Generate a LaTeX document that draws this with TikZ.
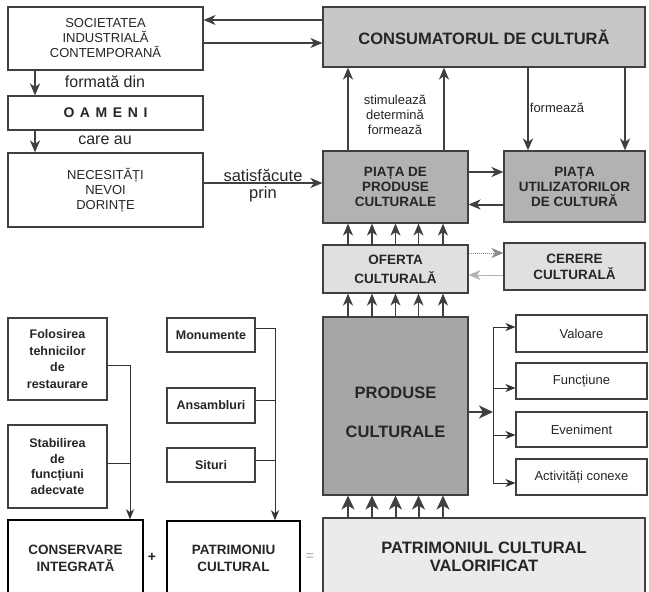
\documentclass[tikz,border=0pt]{standalone}
\usepackage{fontspec}
\setmainfont{Liberation Sans}
\usetikzlibrary{arrows.meta}

\begin{document}
\begin{tikzpicture}[x=1pt,y=-1pt,>={Stealth[length=12pt,width=10pt,inset=3.5pt]},
  every node/.style={text=black!85},
  bx/.style={draw=black!75,line width=1.1pt,rectangle,inner sep=0pt,align=center},
  ln/.style={draw=black!75,line width=1.4pt},
  lnthick/.style={draw=black!75,line width=2pt},
  lnthin/.style={draw=black!80,line width=0.8pt,>={Stealth[length=10pt,width=8pt,inset=3pt]}},
  bigarr/.style={draw=black!75,line width=2pt,-{Stealth[length=14pt,width=13pt,inset=4pt]}}
]
\useasboundingbox[fill=white] (0,0) rectangle (649,592);

% upper part
\node[bx,minimum width=195pt,minimum height=63pt,font=\fontsize{13}{15}\selectfont]
  (soc) at (105.5,38.5) {SOCIETATEA\\INDUSTRIALĂ\\CONTEMPORANĂ};
\node[bx,fill=black!22,minimum width=322pt,minimum height=60pt,font=\fontsize{16.5}{18}\selectfont\bfseries]
  (cons) at (484,37) {CONSUMATORUL DE CULTURĂ};
\node[bx,minimum width=195pt,minimum height=34pt,font=\fontsize{14}{16}\selectfont\bfseries\addfontfeature{LetterSpace=40}]
  (oam) at (105.5,113) {OAMENI};
\node[bx,minimum width=195pt,minimum height=74pt,font=\fontsize{13}{15}\selectfont]
  (nec) at (105.5,190) {NECESITĂȚI\\NEVOI\\DORINȚE};
\node[bx,fill=black!30,minimum width=145pt,minimum height=72pt,font=\fontsize{13.5}{15}\selectfont\bfseries]
  (piata) at (395.5,187) {PIAȚA DE\\PRODUSE\\CULTURALE};
\node[bx,fill=black!30,minimum width=141pt,minimum height=71pt,font=\fontsize{13.5}{15}\selectfont\bfseries]
  (util) at (574.5,186.5) {PIAȚA\\UTILIZATORILOR\\DE CULTURĂ};
\node[bx,fill=black!12,minimum width=145pt,minimum height=48pt,font=\fontsize{13.5}{19}\selectfont\bfseries]
  (oferta) at (395.5,269) {OFERTA\\CULTURALĂ};
\node[bx,fill=black!12,minimum width=141pt,minimum height=47pt,font=\fontsize{13.5}{16}\selectfont\bfseries]
  (cerere) at (574.5,266.5) {CERERE\\CULTURALĂ};

\node[font=\fontsize{16}{18}\selectfont] (fdin) at (105,82) {formată din};
\node[font=\fontsize{16}{18}\selectfont] (careau) at (105,140) {care au};
\node[font=\fontsize{16.5}{18}\selectfont] (satisf) at (263,175) {satisfăcute};
\node[font=\fontsize{16.5}{18}\selectfont] (prin) at (263,194) {prin};
\node[font=\fontsize{13}{15}\selectfont,align=center] (stim) at (395,115) {stimulează\\determină\\formează};
\node[font=\fontsize{13}{15}\selectfont] (form) at (557,108) {formează};

\draw[ln,->] ([yshift=17pt]cons.west) -- ([yshift=17pt]cons.west -| soc.east);
\draw[ln,->] ([yshift=-4.5pt]soc.east) -- ([yshift=-4.5pt]soc.east -| cons.west);
\draw[lnthick,->] ([xshift=-70.5pt]soc.south) -- ([xshift=-70.5pt]soc.south |- oam.north);
\draw[lnthick,->] ([xshift=-70.5pt]oam.south) -- ([xshift=-70.5pt]oam.south |- nec.north);
\draw[lnthick,->] ([yshift=7pt]nec.east) -- ([yshift=7pt]nec.east -| piata.west);
\draw[lnthick,->] ([xshift=-47.5pt]piata.north) -- ([xshift=-47.5pt]piata.north |- cons.south);
\draw[lnthick,->] ([xshift=48.5pt]piata.north) -- ([xshift=48.5pt]piata.north |- cons.south);
\draw[lnthick,->] ([xshift=-46.5pt]util.north |- cons.south) -- ([xshift=-46.5pt]util.north);
\draw[lnthick,->] ([xshift=50.5pt]util.north |- cons.south) -- ([xshift=50.5pt]util.north);
\draw[lnthick,->] ([yshift=15pt]piata.east) -- ([yshift=15pt]piata.east -| util.west);
\draw[lnthick,->] ([yshift=-18pt]util.west) -- ([yshift=-18pt]util.west -| piata.east);
\draw[draw=black!45,line width=1pt,densely dotted,->] ([yshift=16pt]oferta.east) -- ([yshift=16pt]oferta.east -| cerere.west);
\draw[draw=black!30,line width=1pt,->] ([yshift=-6pt]oferta.east -| cerere.west) -- ([yshift=-6pt]oferta.east);
\foreach \dx in {-47.5,-23.5,0,23,47.5}
  \draw[ln,->] ([xshift=\dx pt]oferta.north) -- ([xshift=\dx pt]oferta.north |- piata.south);

% lower right part
\node[bx,fill=black!35,minimum width=145pt,minimum height=178pt] (produse) at (395.5,406) {};
\node[font=\fontsize{16.5}{39}\selectfont\bfseries,align=center] (prodtxt) at ([yshift=-6pt]produse.center) {PRODUSE\\CULTURALE};
\node[bx,fill=black!8,minimum width=322pt,minimum height=78pt,font=\fontsize{16.5}{18}\selectfont\bfseries]
  (patv) at (484,557) {PATRIMONIUL CULTURAL\\VALORIFICAT};
\node[bx,minimum width=131pt,minimum height=37pt,font=\fontsize{13}{15}\selectfont] (val) at (581.5,333.5) {Valoare};
\node[bx,minimum width=131pt,minimum height=36pt,font=\fontsize{13}{15}\selectfont] (fct) at (581.5,381) {Funcțiune};
\node[bx,minimum width=131pt,minimum height=35pt,font=\fontsize{13}{15}\selectfont] (eve) at (581.5,429.5) {Eveniment};
\node[bx,minimum width=131pt,minimum height=36pt,font=\fontsize{13}{15}\selectfont] (act) at (581.5,477) {Activități conexe};
\coordinate (br) at (493,412);

\foreach \dx in {-47.5,-23.5,0,23,47.5}
  \draw[ln,->] ([xshift=\dx pt]produse.north) -- ([xshift=\dx pt]produse.north |- oferta.south);
\foreach \dx in {-47.5,-23.5,0,23,47.5}
  \draw[bigarr] ([xshift=\dx pt]produse.south |- patv.north) -- ([xshift=\dx pt]produse.south);
\draw[bigarr] (produse.east |- br) -- (br);
\draw[lnthin] ([yshift=6.5pt]val.west -| br) -- ([yshift=-6pt]act.west -| br);
\draw[lnthin,->] ([yshift=6.5pt]val.west -| br) -- ([yshift=6.5pt]val.west);
\draw[lnthin,->] ([yshift=-7pt]fct.west -| br) -- ([yshift=-7pt]fct.west);
\draw[lnthin,->] ([yshift=-5.5pt]eve.west -| br) -- ([yshift=-5.5pt]eve.west);
\draw[lnthin,->] ([yshift=-6pt]act.west -| br) -- ([yshift=-6pt]act.west);

% lower left part
\node[bx,minimum width=99pt,minimum height=82pt,font=\fontsize{12.5}{16.5}\selectfont\bfseries]
  (fol) at (57.5,359) {Folosirea\\tehnicilor\\de\\restaurare};
\node[bx,minimum width=99pt,minimum height=83pt,font=\fontsize{12.5}{15.7}\selectfont\bfseries]
  (stab) at (57.5,466.5) {Stabilirea\\de\\funcțiuni\\adecvate};
\node[bx,minimum width=88pt,minimum height=34pt,font=\fontsize{12.5}{15}\selectfont\bfseries] (mon) at (211,335) {Monumente};
\node[bx,minimum width=88pt,minimum height=35pt,font=\fontsize{12.5}{15}\selectfont\bfseries] (ans) at (211,405.5) {Ansambluri};
\node[bx,minimum width=88pt,minimum height=34pt,font=\fontsize{12.5}{15}\selectfont\bfseries] (sit) at (211,465) {Situri};
\node[bx,line width=1.5pt,draw=black,minimum width=135pt,minimum height=76pt,font=\fontsize{13.5}{17}\selectfont\bfseries]
  (consint) at (75.5,558) {CONSERVARE\\INTEGRATĂ};
\node[bx,line width=1.5pt,draw=black,minimum width=133pt,minimum height=75pt,font=\fontsize{13.5}{17}\selectfont\bfseries]
  (patr) at (233.5,558.5) {PATRIMONIU\\CULTURAL};
\node[font=\fontsize{14}{16}\selectfont\bfseries] (plus) at (152,557) {+};
\node[font=\fontsize{14}{16}\selectfont,text=black!35] (eq) at (310,557) {=};
\coordinate (colL) at ([xshift=54.5pt]consint.north);
\coordinate (colR) at ([xshift=41.5pt]patr.north);

\draw[lnthin,->] ([yshift=-6pt]fol.east) -| (colL);
\draw[lnthin] ([yshift=3.5pt]stab.east) -- ([yshift=3.5pt]stab.east -| colL);
\draw[lnthin,->] ([yshift=7pt]mon.east) -| (colR);
\draw[lnthin] ([yshift=5.5pt]ans.east) -- ([yshift=5.5pt]ans.east -| colR);
\draw[lnthin] ([yshift=5pt]sit.east) -- ([yshift=5pt]sit.east -| colR);
\end{tikzpicture}
\end{document}
